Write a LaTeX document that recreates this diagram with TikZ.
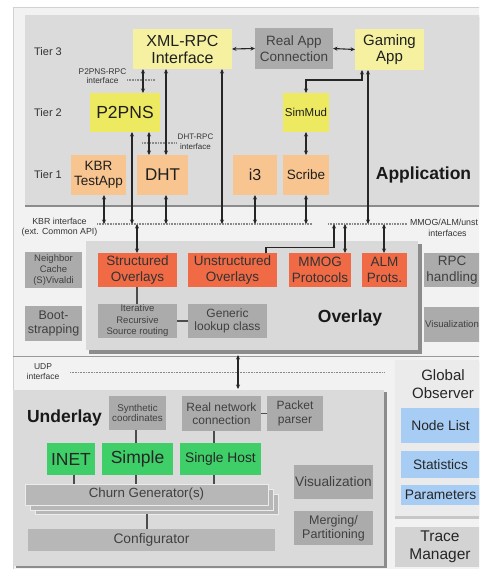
\documentclass[tikz,border=0pt]{standalone}
\usepackage{fontspec}
\setmainfont{Liberation Sans}
\usetikzlibrary{arrows.meta}
\definecolor{paleyel}{HTML}{F5F1A1}
\definecolor{brightyel}{HTML}{EDEA62}
\definecolor{peachc}{HTML}{F8C590}
\definecolor{orered}{HTML}{EF6A45}
\definecolor{greenc}{HTML}{3FCF68}
\definecolor{bluec}{HTML}{A8CDF4}
\definecolor{grayb}{HTML}{ABABAB}
\definecolor{churnc}{HTML}{B7B7B7}
\definecolor{appbg}{HTML}{DBDBDB}
\definecolor{ovbg}{HTML}{D9D9D9}
\definecolor{unbg}{HTML}{DADADA}
\definecolor{outerbg}{HTML}{F2F2F2}
\definecolor{outerln}{HTML}{D2D2D2}
\definecolor{gobg}{HTML}{EBEBEB}
\definecolor{tracebg}{HTML}{D3D3D3}
\definecolor{shadowc}{HTML}{8C8C8C}
\definecolor{ifacec}{HTML}{8A8A8A}
\newcommand\myfs[2]{\fontsize{#1}{#2}\selectfont}
\newcommand\bx[7]{\node[#2, minimum width=#5pt-#3pt, minimum height=#6pt-#4pt] (#1) at ({(#3+#5)/2},{(#4+#6)/2}) {#7};}
\tikzset{
  bxs/.style={rectangle, inner sep=0pt, outer sep=0pt, align=center, text=black!88},
  pyel/.style={bxs, fill=paleyel},
  byel/.style={bxs, fill=brightyel},
  peach/.style={bxs, fill=peachc},
  ored/.style={bxs, fill=orered, text=black!80},
  gbox/.style={bxs, fill=grayb, text=black!75},
  grn/.style={bxs, fill=greenc, text=black!85},
  blu/.style={bxs, fill=bluec, text=black!85},
  chb/.style={bxs, fill=churnc, draw=white!85!gray, line width=0.6pt, text=black!75},
  big/.style={bxs},
  lbl/.style={inner sep=0pt, outer sep=0pt, align=center, text=black!80},
  tip/.tip={Stealth[length=4.5pt,width=4pt]},
  dbl/.style={tip-tip, line width=1.1pt, draw=black!85},
  sgl/.style={-tip, line width=1.1pt, draw=black!85},
  conn/.style={line width=1.1pt, draw=black!70},
  iface/.style={draw=ifacec, line width=1.3pt, dash pattern=on 0.8pt off 0.8pt},
}
\begin{document}
\begin{tikzpicture}[x=1pt,y=-1pt]
\useasboundingbox (0,0) rectangle (479,569);
\clip (0,0) rectangle (479,569);
\fill[white] (0,0) rectangle (479,569);
% outer frame
\fill[outerbg, draw=outerln, line width=0.8pt] (13,7) rectangle (495,585);
\draw[draw=black!40, line width=1pt] (13,356.5) -- (495,356.5);

% ---------------- Application ----------------
\fill[shadowc] (25,17) rectangle (495,207);
\bx{app}{big, fill=appbg}{25}{15}{495}{205}{}
\node[lbl, font=\myfs{11}{12}] (t3) at (48,52) {Tier 3};
\node[lbl, font=\myfs{11}{12}] (t2) at (48,113) {Tier 2};
\node[lbl, font=\myfs{11}{12}] (t1) at (48,175) {Tier 1};
\node[lbl, font=\bfseries\myfs{17.5}{19}, text=black!90] (applbl) at (423.5,175) {Application};

\bx{xml}{pyel, font=\myfs{16}{17}}{133}{29}{232}{69}{XML-RPC\\Interface}
\bx{realapp}{gbox, font=\myfs{13.5}{15.5}}{255}{28}{333}{69}{Real App\\Connection}
\bx{gaming}{pyel, font=\myfs{15}{16.5}}{355}{29}{424}{70}{Gaming\\App}
\bx{p2pns}{byel, font=\myfs{17.5}{19}}{90}{93}{160}{132}{P2PNS}
\bx{simmud}{byel, font=\myfs{11.5}{13}}{283}{93}{329}{132}{SimMud}
\bx{kbrtest}{peach, font=\myfs{13.5}{15}}{71}{155}{126}{195}{KBR\\TestApp}
\bx{dht}{peach, font=\myfs{17}{19}}{137}{155}{188}{195}{DHT}
\bx{ithree}{peach, font=\myfs{16}{18}}{233}{155}{277}{195}{i3}
\bx{scribe}{peach, font=\myfs{13.5}{15}}{283}{155}{329}{195}{Scribe}

% interface lines
\coordinate (p2L) at (127,80); \coordinate (p2R) at (155,80);
\coordinate (dhL) at (142,143); \coordinate (dhR) at (176,143);
\coordinate (kbrL) at (97,224); \coordinate (kbrR) at (312,224);
\coordinate (mmL) at (328,224); \coordinate (mmR) at (407,224);
\coordinate (udpL) at (70,372.5); \coordinate (udpR) at (384,372.5);
\draw[iface] (p2L) -- (p2R);
\draw[iface] (dhL) -- (dhR);
\draw[iface] (kbrL) -- (kbrR);
\draw[iface] (mmL) -- (mmR);
\draw[iface] (udpL) -- (udpR);
\node[lbl, font=\myfs{8.3}{9}] (p2lbl) at (102.5,76.5) {P2PNS-RPC\\interface};
\node[lbl, font=\myfs{8}{9.5}] (dhlbl) at (195.5,141.5) {DHT-RPC\\interface};
\node[lbl, font=\myfs{8.8}{10}] (kbrlbl) at (59.5,227) {KBR interface\\(ext. Common API)};
\node[lbl, font=\myfs{8.8}{10}, anchor=west] (mmlbl) at (410,222) {MMOG/ALM/unst};
\node[lbl, font=\myfs{8.8}{10}] (mmlbl2) at (447.5,233) {interfaces};
\node[lbl, font=\myfs{8.5}{10}] (udplbl) at (43,372) {UDP\\interface};

% application arrows
\draw[dbl] (xml.east) -- (realapp.west);
\draw[dbl] (realapp.east) -- (gaming.west);
\draw[dbl] (143,0 |- xml.south) -- (143,0 |- p2pns.north);
\draw[dbl] (166,0 |- xml.south) -- (166,0 |- dht.north);
\draw[dbl] (222,0 |- xml.south) -- (222,0 |- kbrL);
\draw[dbl] (132,0 |- p2pns.south) -- (132,0 |- kbrL);
\draw[dbl] (149,0 |- p2pns.south) -- (149,0 |- dht.north);
\coordinate (gbend) at (362,80);
\draw[dbl] (gbend |- gaming.south) -- (gbend) -| (simmud.north);
\draw[dbl] (368,0 |- gaming.south) -- (368,0 |- mmL);
\draw[dbl] (simmud.south) -- (scribe.north);
\draw[dbl] (104,0 |- kbrtest.south) -- (104,0 |- kbrL);
\draw[dbl] (166,0 |- dht.south) -- (166,0 |- kbrL);
\draw[dbl] (255,0 |- ithree.south) -- (255,0 |- kbrL);
\draw[dbl] (306,0 |- scribe.south) -- (306,0 |- kbrL);

% ---------------- Overlay ----------------
\fill[shadowc] (89,244) rectangle (421.5,353.5);
\bx{overlay}{big, fill=ovbg}{86}{241}{418}{350}{}
\node[lbl, font=\bfseries\myfs{17.5}{19}, text=black!90] (ovlbl) at (350,318) {Overlay};
\bx{neigh}{gbox, font=\myfs{9.5}{11}}{25}{252}{82}{288}{Neighbor\\Cache\\(S)Vivaldi}
\bx{boot}{gbox, font=\myfs{12.5}{13.5}}{25}{306}{82}{341}{Boot-\\strapping}
\bx{struct}{ored, font=\myfs{13.5}{16}}{98}{253}{177}{287}{Structured\\Overlays}
\bx{unstruct}{ored, font=\myfs{13.5}{16}}{188}{253}{277}{287}{Unstructured\\Overlays}
\bx{mmog}{ored, font=\myfs{13.5}{16}}{289}{253}{351}{287}{MMOG\\Protocols}
\bx{alm}{ored, font=\myfs{13.5}{16}}{362}{253}{407}{287}{ALM\\Prots.}
\bx{rpc}{gbox, font=\myfs{13.5}{16}}{424}{253}{480}{287}{RPC\\handling}
\bx{iter}{gbox, font=\myfs{9.5}{11.5}}{98}{304}{177}{338}{Iterative\\Recursive\\Source routing}
\bx{generic}{gbox, font=\myfs{12}{13.5}}{188}{304}{267}{338}{Generic\\lookup class}
\bx{visr}{gbox, font=\myfs{9.6}{11}}{424}{307}{480}{342}{Visualization}

\draw[dbl] (137,0 |- kbrL) -- (137,0 |- struct.north);
\coordinate (ubend) at (266,247.5);
\draw[sgl] (ubend |- unstruct.north) -- (ubend) -| (334,0 |- mmL);
\draw[dbl] (345,0 |- mmL) -- (345,0 |- mmog.north);
\draw[dbl] (384,0 |- mmR) -- (384,0 |- alm.north);
\draw[conn] (137,0 |- struct.south) -- (137,0 |- iter.north);
\draw[conn] (iter.east) -- (generic.west);

% ---------------- Underlay ----------------
\fill[shadowc] (16,392) rectangle (386.5,568);
\bx{underlay}{big, fill=unbg}{13}{390}{383.5}{566}{}
\node[lbl, font=\bfseries\myfs{17.5}{19}, text=black!90] (unlbl) at (64.5,418) {Underlay};
\draw[dbl, shorten <=5pt, shorten >=1pt] (238,0 |- overlay.south) -- (238,0 |- underlay.north);

\bx{synth}{gbox, font=\myfs{9.8}{10.5}}{109}{396}{166}{430}{Synthetic\\coordinates}
\bx{realnet}{gbox, font=\myfs{12}{13.5}}{182}{396}{261}{431}{Real network\\connection}
\bx{packet}{gbox, font=\myfs{12}{13.5}}{267}{396}{323}{431}{Packet\\parser}
\bx{inet}{grn, font=\myfs{17.5}{19}}{47}{443}{95}{475}{INET}
\bx{simple}{grn, font=\myfs{17.5}{19}}{102}{443}{173}{475}{Simple}
\bx{single}{grn, font=\myfs{13.8}{15}}{180}{443}{261}{475}{Single Host}
\bx{churnc}{chb}{35}{494}{278}{514}{}
\bx{churnb}{chb}{30}{489}{273}{510}{}
\bx{churn}{chb, font=\myfs{13.3}{15}}{25}{484}{268}{505}{Churn Generator(s)}
\bx{config}{bxs, fill=churnc, text=black!75, font=\myfs{13.8}{15}}{28}{529}{275}{551}{Configurator}
\bx{visu}{gbox, font=\myfs{13.7}{15}}{294}{465}{373}{499}{Visualization}
\bx{merge}{gbox, font=\myfs{12.5}{14}}{294}{511}{373}{545}{Merging/\\Partitioning}

\draw[conn] (136,0 |- synth.south) -- (136,0 |- simple.north);
\draw[conn] (214,0 |- realnet.south) -- (214,0 |- single.north);
\draw[conn] (realnet.east) -- (packet.west);
\draw[conn] (74,0 |- inet.south) -- (74,0 |- churn.north);
\draw[conn] (136,0 |- simple.south) -- (136,0 |- churn.north);
\draw[conn] (214,0 |- single.south) -- (214,0 |- churn.north);
\draw[conn] (147,0 |- churnc.south) -- (147,0 |- config.north);

% ---------------- Global Observer ----------------
\fill[black!22] (395,362) rectangle (490,518.5);
\bx{go}{big, fill=gobg}{395}{360}{490}{516}{}
\node[lbl, font=\myfs{15}{18}, text=black!85] (golbl) at (443,384) {Global\\Observer};
\bx{nodelist}{blu, font=\myfs{13.8}{15}}{401}{408}{480}{443}{Node List}
\bx{stats}{blu, font=\myfs{13.7}{15}}{401}{451}{480}{478}{Statistics}
\bx{params}{blu, font=\myfs{13.8}{15}}{401}{485}{480}{505}{Parameters}
\bx{trace}{bxs, fill=tracebg, text=black!85, font=\myfs{15.5}{18}}{395}{527}{485}{567}{Trace\\Manager}
\end{tikzpicture}
\end{document}
